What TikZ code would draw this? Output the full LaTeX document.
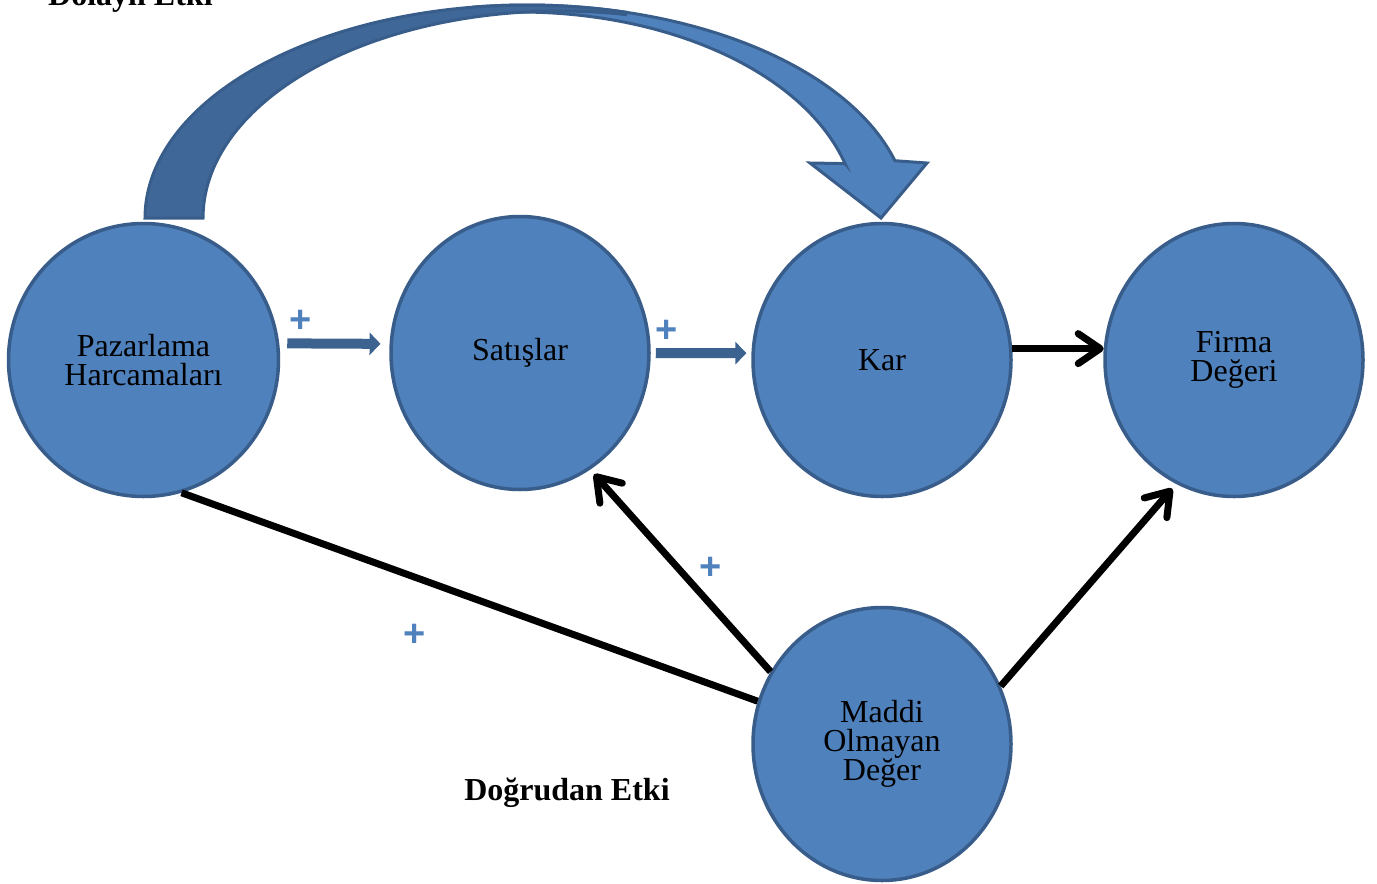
\documentclass[tikz,border=0pt]{standalone}
\usepackage{fontspec}
\setmainfont{Liberation Serif}
\newfontfamily\plusfont{Liberation Sans}
\usetikzlibrary{shapes.geometric,arrows.meta}
\definecolor{nodefill}{HTML}{4F81BD}
\definecolor{nodeline}{HTML}{385D8A}
\definecolor{bandback}{HTML}{3F6797}
\definecolor{blockblue}{HTML}{3C6290}
\definecolor{plusblue}{HTML}{4F81BD}
\begin{document}
\begin{tikzpicture}[x=1pt,y=-1pt,
  bubble/.style={ellipse, fill=nodefill, draw=nodeline, line width=3.5pt,
    inner sep=0pt, minimum width=258pt, minimum height=273pt, align=center,
    font=\fontsize{32}{29}\selectfont},
  blk/.style={blockblue, line width=10pt, -{Triangle[length=11pt,width=22pt]}},
  conn/.style={black, line width=7pt, -{Straight Barb[length=22pt,width=30pt,round]}},
  plain/.style={black, line width=7pt},
  plus/.style={text=plusblue, inner sep=0pt, font=\plusfont\bfseries\fontsize{38}{38}\selectfont},
  lbl/.style={inner sep=0pt, font=\bfseries\fontsize{32}{32}\selectfont},
  band/.style={draw=nodeline, line width=3pt, line join=miter}]

\useasboundingbox (0,0) rectangle (1377,884);

% curved block arrow: front face running into the head
\filldraw[band, fill=nodefill]
  plot[domain=262:344.4, samples=80, variable=\t] ({527+382*cos(\t)}, {218+213*sin(\t)})
  -- (927,163) -- (881,218) -- (810,163) -- (845,163.6)
  -- plot[domain=344.7:262, samples=80, variable=\t] ({520+337*cos(\t)}, {218+206*sin(\t)})
  -- cycle;
% curved block arrow: back face rising from the left end
\filldraw[band, fill=bandback]
  plot[domain=180:285, samples=80, variable=\t] ({527+382*cos(\t)}, {218+213*sin(\t)})
  -- plot[domain=280.6:180, samples=80, variable=\t] ({560+357*cos(\t)}, {218+207*sin(\t)})
  -- cycle;

% nodes
\node[bubble, minimum width=270pt] (paz) at (143.5,360) {Pazarlama\\Harcamaları};
\node[bubble] (sat) at (520,353) {Satışlar};
\node[bubble] (kar) at (882,360) {Kar};
\node[bubble] (firma) at (1234,360) {Firma\\Değeri};
\node[bubble] (maddi) at (882,744) {Maddi\\Olmayan\\Değer};

% block arrows along the main chain
\draw[blk, shorten <=8pt, shorten >=9pt] (paz.7) -- (sat.176);
\draw[blk, shorten <=5pt, shorten >=5pt] (sat.0) -- (kar.177);

% black connectors
\draw[conn] (kar.5) -- (firma.175);
\draw[conn, shorten >=6pt] (maddi.147) -- (sat.-59);
\draw[conn, shorten >=6pt] (maddi.26) -- (firma.245);
\draw[plain] (paz.-74) -- (maddi.161);

% signs
\node[plus] (s1) at (301,321) {+};
\node[plus] (s2) at (667,331) {+};
\node[plus] (s3) at (711,568) {+};
\node[plus] (s4) at (415,635) {+};

% labels
\node[lbl, anchor=base west] (indirect) at (48,5) {Dolaylı Etki};
\node[lbl, anchor=base] (direct) at (567,800) {Doğrudan Etki};
\end{tikzpicture}
\end{document}
